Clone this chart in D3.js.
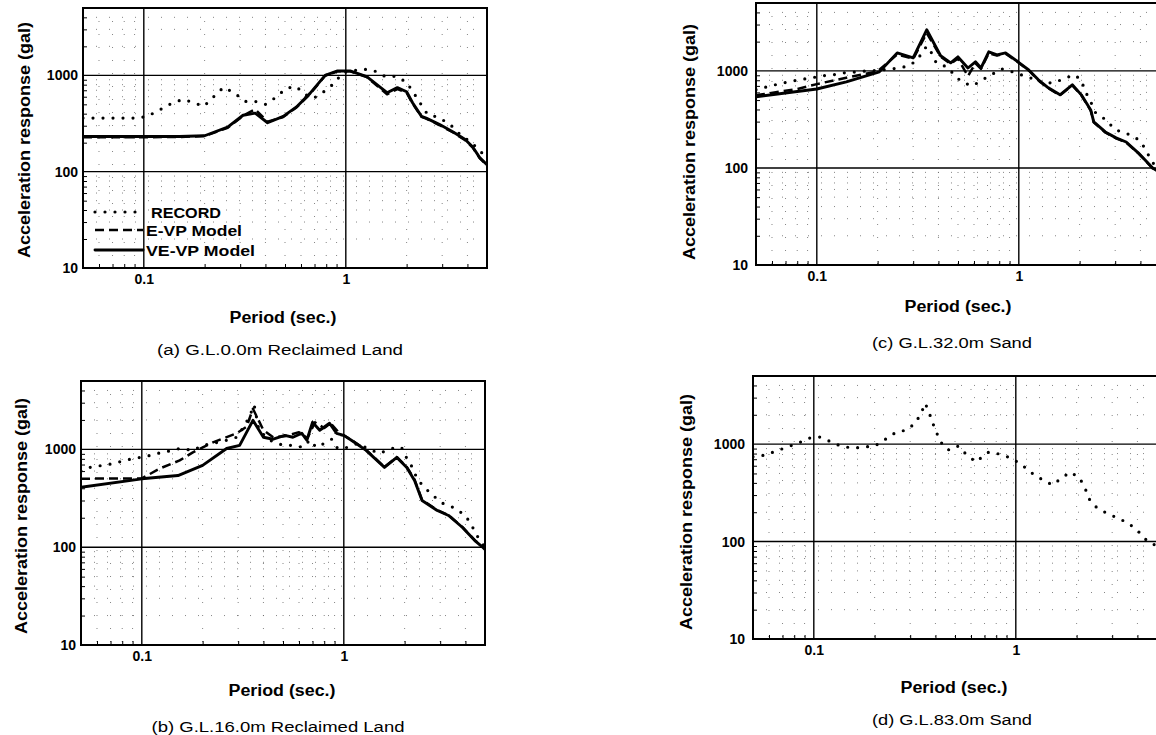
<!DOCTYPE html>
<html lang="en">
<head>
<meta charset="UTF-8">
<title>Acceleration response spectra</title>
<script src="https://cdn.jsdelivr.net/npm/d3@7"></script>
<style>
  body { margin: 0; background: #fff; }
  svg { display: block; font-family: "Liberation Sans", Arial, sans-serif; }
</style>
</head>
<body>
<svg id="chart" width="1156" height="735"></svg>
<script>
// ---- data: [period (s), acceleration (gal)] ----
const aRecord = [[0.05,360],[0.065,360],[0.083,360],[0.095,360],[0.106,383],[0.121,443],[0.137,511],[0.156,562],[0.176,523],[0.198,476],[0.22,590],[0.248,750],[0.278,665],[0.318,536],[0.356,536],[0.4,500],[0.45,590],[0.506,732],[0.567,768],[0.628,634],[0.69,576],[0.77,665],[0.865,806],[0.97,1070],[1.21,1160],[1.37,1127],[1.56,976],[1.78,976],[2.0,845],[2.16,665],[2.34,511],[2.54,393],[2.9,365],[3.33,300],[3.73,237],[4.2,200],[4.7,158],[5,140]]
const aEvp = [[0.05,228],[0.1,228],[0.15,229],[0.2,234],[0.26,285],[0.31,380],[0.356,445],[0.41,330],[0.49,370],[0.57,465],[0.665,640],[0.79,990],[0.91,1100],[1.05,1100],[1.27,960],[1.6,635],[1.8,720],[2.0,660],[2.14,510],[2.37,370],[2.5,355],[2.9,305],[3.4,255],[3.9,212],[4.25,178],[4.6,138],[5,116]]
const aVevp = [[0.05,232],[0.1,232],[0.15,232],[0.2,236],[0.26,290],[0.31,385],[0.356,405],[0.41,322],[0.49,375],[0.57,470],[0.665,650],[0.79,1000],[0.91,1110],[1.05,1110],[1.27,970],[1.6,660],[1.8,745],[2.0,675],[2.14,520],[2.37,375],[2.5,360],[2.9,310],[3.4,258],[3.9,216],[4.25,180],[4.6,140],[5,118]]

const bRecord = [[0.05,600],[0.055,654],[0.064,686],[0.073,718],[0.082,770],[0.092,810],[0.106,850],[0.12,910],[0.134,954],[0.154,1020],[0.179,976],[0.2,1100],[0.225,1150],[0.263,1240],[0.295,1330],[0.316,1640],[0.34,2130],[0.36,2850],[0.38,1570],[0.43,1240],[0.5,1100],[0.56,1100],[0.63,1050],[0.68,1250],[0.73,1050],[0.8,1150],[0.87,1270],[0.93,1030],[1.0,1020],[1.17,1150],[1.34,1000],[1.5,910],[1.72,1020],[1.93,1050],[2.05,810],[2.2,640],[2.3,504],[2.5,410],[2.8,330],[3.1,280],[3.5,254],[4.0,211],[4.3,166],[4.6,128],[5,100]]
const bEvp = [[0.05,500],[0.07,505],[0.1,505],[0.123,638],[0.154,771],[0.179,932],[0.225,1180],[0.295,1460],[0.33,1700],[0.355,2600],[0.4,1570],[0.447,1330],[0.51,1360],[0.6,1500],[0.66,1300],[0.72,1890],[0.8,1650],[0.86,1850],[0.97,1400],[1.0,1390],[1.09,1250],[1.29,985],[1.59,660],[1.83,835],[2.05,660],[2.24,490],[2.44,305],[2.9,240],[3.3,213],[3.87,160],[4.45,118],[4.9,100],[5,96]]
const bVevp = [[0.05,410],[0.1,500],[0.151,540],[0.2,686],[0.263,1020],[0.305,1100],[0.355,1980],[0.4,1330],[0.447,1270],[0.51,1390],[0.56,1330],[0.62,1460],[0.656,1240],[0.7,1890],[0.76,1570],[0.85,1850],[0.92,1460],[1.0,1390],[1.09,1240],[1.29,976],[1.59,654],[1.83,828],[2.05,654],[2.24,481],[2.44,300],[2.9,237],[3.3,211],[3.87,159],[4.45,117],[4.9,99],[5,95]]

const cRecord = [[0.05,640],[0.054,668],[0.062,717],[0.072,770],[0.082,810],[0.094,847],[0.107,890],[0.12,910],[0.137,954],[0.157,976],[0.178,1000],[0.2,1010],[0.256,1070],[0.287,1130],[0.314,1300],[0.35,1800],[0.37,1530],[0.39,1210],[0.44,1100],[0.48,910],[0.52,770],[0.59,700],[0.66,808],[0.73,910],[0.82,1050],[0.93,976],[1.06,890],[1.18,827],[1.32,752],[1.5,752],[1.7,847],[1.9,910],[2.04,790],[2.14,607],[2.27,480],[2.4,370],[2.7,313],[3.0,247],[3.37,230],[3.8,204],[4.05,181],[4.3,147],[4.55,116],[5,95]]
const cEvp = [[0.05,560],[0.08,650],[0.1,730],[0.14,850],[0.2,990],[0.25,1480],[0.3,1330],[0.35,2450],[0.41,1400],[0.46,1180],[0.5,1340],[0.56,880],[0.61,1200],[0.65,1050],[0.71,1520],[0.78,1440],[0.86,1500],[0.99,1230],[1.12,1010],[1.25,800],[1.4,660],[1.6,560],[1.84,710],[2.04,560],[2.27,390],[2.35,295],[2.68,232],[3.03,202],[3.4,183],[3.9,142],[4.6,99],[5,89]]
const cVevp = [[0.05,540],[0.1,650],[0.14,770],[0.204,976],[0.25,1530],[0.3,1360],[0.35,2650],[0.41,1430],[0.46,1210],[0.5,1390],[0.56,1070],[0.61,1240],[0.65,1070],[0.71,1570],[0.78,1460],[0.86,1530],[0.99,1240],[1.12,1020],[1.25,808],[1.4,668],[1.6,566],[1.84,718],[2.04,566],[2.27,396],[2.35,298],[2.68,235],[3.03,204],[3.4,185],[3.9,143],[4.6,100],[5,90]]

const dRecord = [[0.05,740],[0.0574,772],[0.065,848],[0.0737,932],[0.0834,1020],[0.0946,1150],[0.107,1180],[0.12,1070],[0.136,954],[0.156,910],[0.176,932],[0.2,954],[0.226,1120],[0.256,1330],[0.287,1390],[0.318,1640],[0.34,2080],[0.356,2630],[0.373,2080],[0.39,1600],[0.41,1240],[0.437,954],[0.468,868],[0.518,954],[0.567,790],[0.635,655],[0.68,736],[0.736,830],[0.834,790],[0.945,720],[1.06,624],[1.2,505],[1.36,428],[1.52,381],[1.69,450],[1.86,516],[2.07,450],[2.21,346],[2.31,273],[2.5,226],[2.8,197],[3.18,175],[3.6,155],[4.03,128],[4.5,100],[5,90]]

const xDomain = [0.05, 5]
const yDomain = [10, 5000]
const xTicks = [0.1, 1]
const xTickLabels = ['0.1', '1']
const yTicks = [10, 100, 1000]
const yTickLabels = ['10', '100', '1000']
const legendLabels = ['RECORD', 'E-VP Model', 'VE-VP Model']
const captions = ['(a) G.L.0.0m Reclaimed Land', '(b) G.L.16.0m Reclaimed Land', '(c) G.L.32.0m Sand', '(d) G.L.83.0m Sand']
const xTitle = 'Period (sec.)'
const yTitle = 'Acceleration response (gal)'

// ---- layout ----
let layout = [
  {left: 83,  top: 8,   w: 404, h: 260, ylab: [24, 140],  per: [283, 317], cap: [280, 350], capLen: 246},
  {left: 81,  top: 381, w: 404, h: 264, ylab: [21, 516],  per: [282, 690], cap: [278, 727], capLen: 253},
  {left: 756, top: 3,   w: 404, h: 262, ylab: [689, 142], per: [958, 306], cap: [952, 343], capLen: 160},
  {left: 753, top: 376, w: 404, h: 263, ylab: [686, 512], per: [954, 687], cap: [952, 720], capLen: 160}
]

let panels = [
  {series: [['record', aRecord], ['evp', aEvp], ['vevp', aVevp]], legend: true},
  {series: [['record', bRecord], ['evp', bEvp], ['vevp', bVevp]]},
  {series: [['record', cRecord], ['evp', cEvp], ['vevp', cVevp]]},
  {series: [['record', dRecord]]}
]

let styles = {
  record: {width: 3.2, dash: '0,10', cap: 'round'},
  evp:    {width: 2.5, dash: '9,5',  cap: 'butt'},
  vevp:   {width: 2.9, dash: null,   cap: 'round'}
}

let svg = d3.select('#chart')
svg.append('rect').attr('width', 1156).attr('height', 735).attr('fill', 'white')

let isMajor = v => Math.abs(Math.log10(v) - Math.round(Math.log10(v))) < 1e-9

panels.forEach((p, i) => {
  let L = layout[i]
  let x = d3.scaleLog().domain(xDomain).range([0, L.w])
  let y = d3.scaleLog().domain(yDomain).range([L.h, 0])

  let g = svg.append('g').attr('transform', `translate(${L.left},${L.top})`)

  g.append('clipPath').attr('id', 'clip' + i)
    .append('rect').attr('width', L.w).attr('height', L.h)

  let xMinor = x.ticks().filter(v => !isMajor(v) && v > xDomain[0])
  let yMinor = y.ticks().filter(v => !isMajor(v) && v < yDomain[1])

  // minor grid, sparse dots
  g.append('g').selectAll('line').data(xMinor).enter().append('line')
    .attr('x1', d => x(d)).attr('x2', d => x(d)).attr('y1', 0).attr('y2', L.h)
    .attr('stroke', '#666').attr('stroke-width', 0.8).attr('stroke-dasharray', '1,12')
  g.append('g').selectAll('line').data(yMinor).enter().append('line')
    .attr('y1', d => y(d)).attr('y2', d => y(d)).attr('x1', 0).attr('x2', L.w)
    .attr('stroke', '#666').attr('stroke-width', 0.8).attr('stroke-dasharray', '1,12')

  // major grid
  g.append('g').selectAll('line').data(xTicks).enter().append('line')
    .attr('x1', d => x(d)).attr('x2', d => x(d)).attr('y1', 0).attr('y2', L.h)
    .attr('stroke', '#000').attr('stroke-width', 1.4)
  g.append('g').selectAll('line').data(yTicks.filter(v => v > yDomain[0])).enter().append('line')
    .attr('y1', d => y(d)).attr('y2', d => y(d)).attr('x1', 0).attr('x2', L.w)
    .attr('stroke', '#000').attr('stroke-width', 1.4)

  // small inner ticks
  g.append('g').attr('transform', `translate(0,${L.h})`)
    .call(d3.axisBottom(x).tickValues(xMinor).tickSize(-4).tickFormat(''))
    .call(a => a.select('.domain').remove())
  g.append('g')
    .call(d3.axisLeft(y).tickValues(yMinor).tickSize(-4).tickFormat(''))
    .call(a => a.select('.domain').remove())

  // tick labels
  g.append('g').attr('transform', `translate(0,${L.h})`)
    .call(d3.axisBottom(x).tickValues(xTicks).tickSize(0).tickPadding(6)
      .tickFormat((d, k) => xTickLabels[k]))
    .call(a => a.select('.domain').remove())
    .selectAll('text').attr('font-size', 14).attr('font-weight', 'bold').attr('fill', '#000')
  g.append('g')
    .call(d3.axisLeft(y).tickValues(yTicks).tickSize(0).tickPadding(i < 2 ? 5 : 8)
      .tickFormat((d, k) => yTickLabels[k]))
    .call(a => a.select('.domain').remove())
    .selectAll('text').attr('font-size', 14).attr('font-weight', 'bold').attr('fill', '#000')

  // curves
  let line = d3.line().x(d => x(d[0])).y(d => y(d[1]))
  let curves = g.append('g').attr('clip-path', `url(#clip${i})`)
  p.series.forEach(([key, data]) => {
    let s = styles[key]
    curves.append('path').datum(data)
      .attr('d', line)
      .attr('fill', 'none').attr('stroke', '#000')
      .attr('stroke-width', s.width)
      .attr('stroke-linecap', s.cap).attr('stroke-linejoin', 'round')
      .attr('stroke-dasharray', s.dash)
  })

  // frame
  g.append('rect').attr('width', L.w).attr('height', L.h)
    .attr('fill', 'none').attr('stroke', '#000').attr('stroke-width', 2)

  // legend (panel a)
  if (p.legend) {
    let keys = ['record', 'evp', 'vevp']
    let ly = [204, 222, 242]
    let lx2 = [54, 60, 60]
    let tx = [68, 63, 63]
    let tl = [70, 96, 109]
    keys.forEach((k, j) => {
      let s = styles[k]
      g.append('line').attr('x1', 12).attr('x2', lx2[j]).attr('y1', ly[j]).attr('y2', ly[j])
        .attr('stroke', '#000').attr('stroke-width', s.width)
        .attr('stroke-linecap', s.cap).attr('stroke-dasharray', s.dash)
      g.append('text').attr('x', tx[j]).attr('y', ly[j] + 6)
        .attr('font-size', 15).attr('font-weight', 'bold')
        .attr('textLength', tl[j]).attr('lengthAdjust', 'spacingAndGlyphs')
        .text(legendLabels[j])
    })
  }

  // axis titles and caption
  svg.append('text')
    .attr('transform', `translate(${L.ylab[0]},${L.ylab[1]}) rotate(-90)`)
    .attr('text-anchor', 'middle').attr('dy', '0.35em')
    .attr('font-size', 16).attr('font-weight', 'bold')
    .attr('textLength', 236).attr('lengthAdjust', 'spacingAndGlyphs')
    .text(yTitle)
  svg.append('text')
    .attr('x', L.per[0]).attr('y', L.per[1]).attr('dy', '0.35em')
    .attr('text-anchor', 'middle')
    .attr('font-size', 16).attr('font-weight', 'bold')
    .attr('textLength', 107).attr('lengthAdjust', 'spacingAndGlyphs')
    .text(xTitle)
  svg.append('text')
    .attr('x', L.cap[0]).attr('y', L.cap[1]).attr('dy', '0.35em')
    .attr('text-anchor', 'middle')
    .attr('font-size', 14)
    .attr('textLength', L.capLen).attr('lengthAdjust', 'spacingAndGlyphs')
    .text(captions[i])
})
</script>
</body>
</html>
